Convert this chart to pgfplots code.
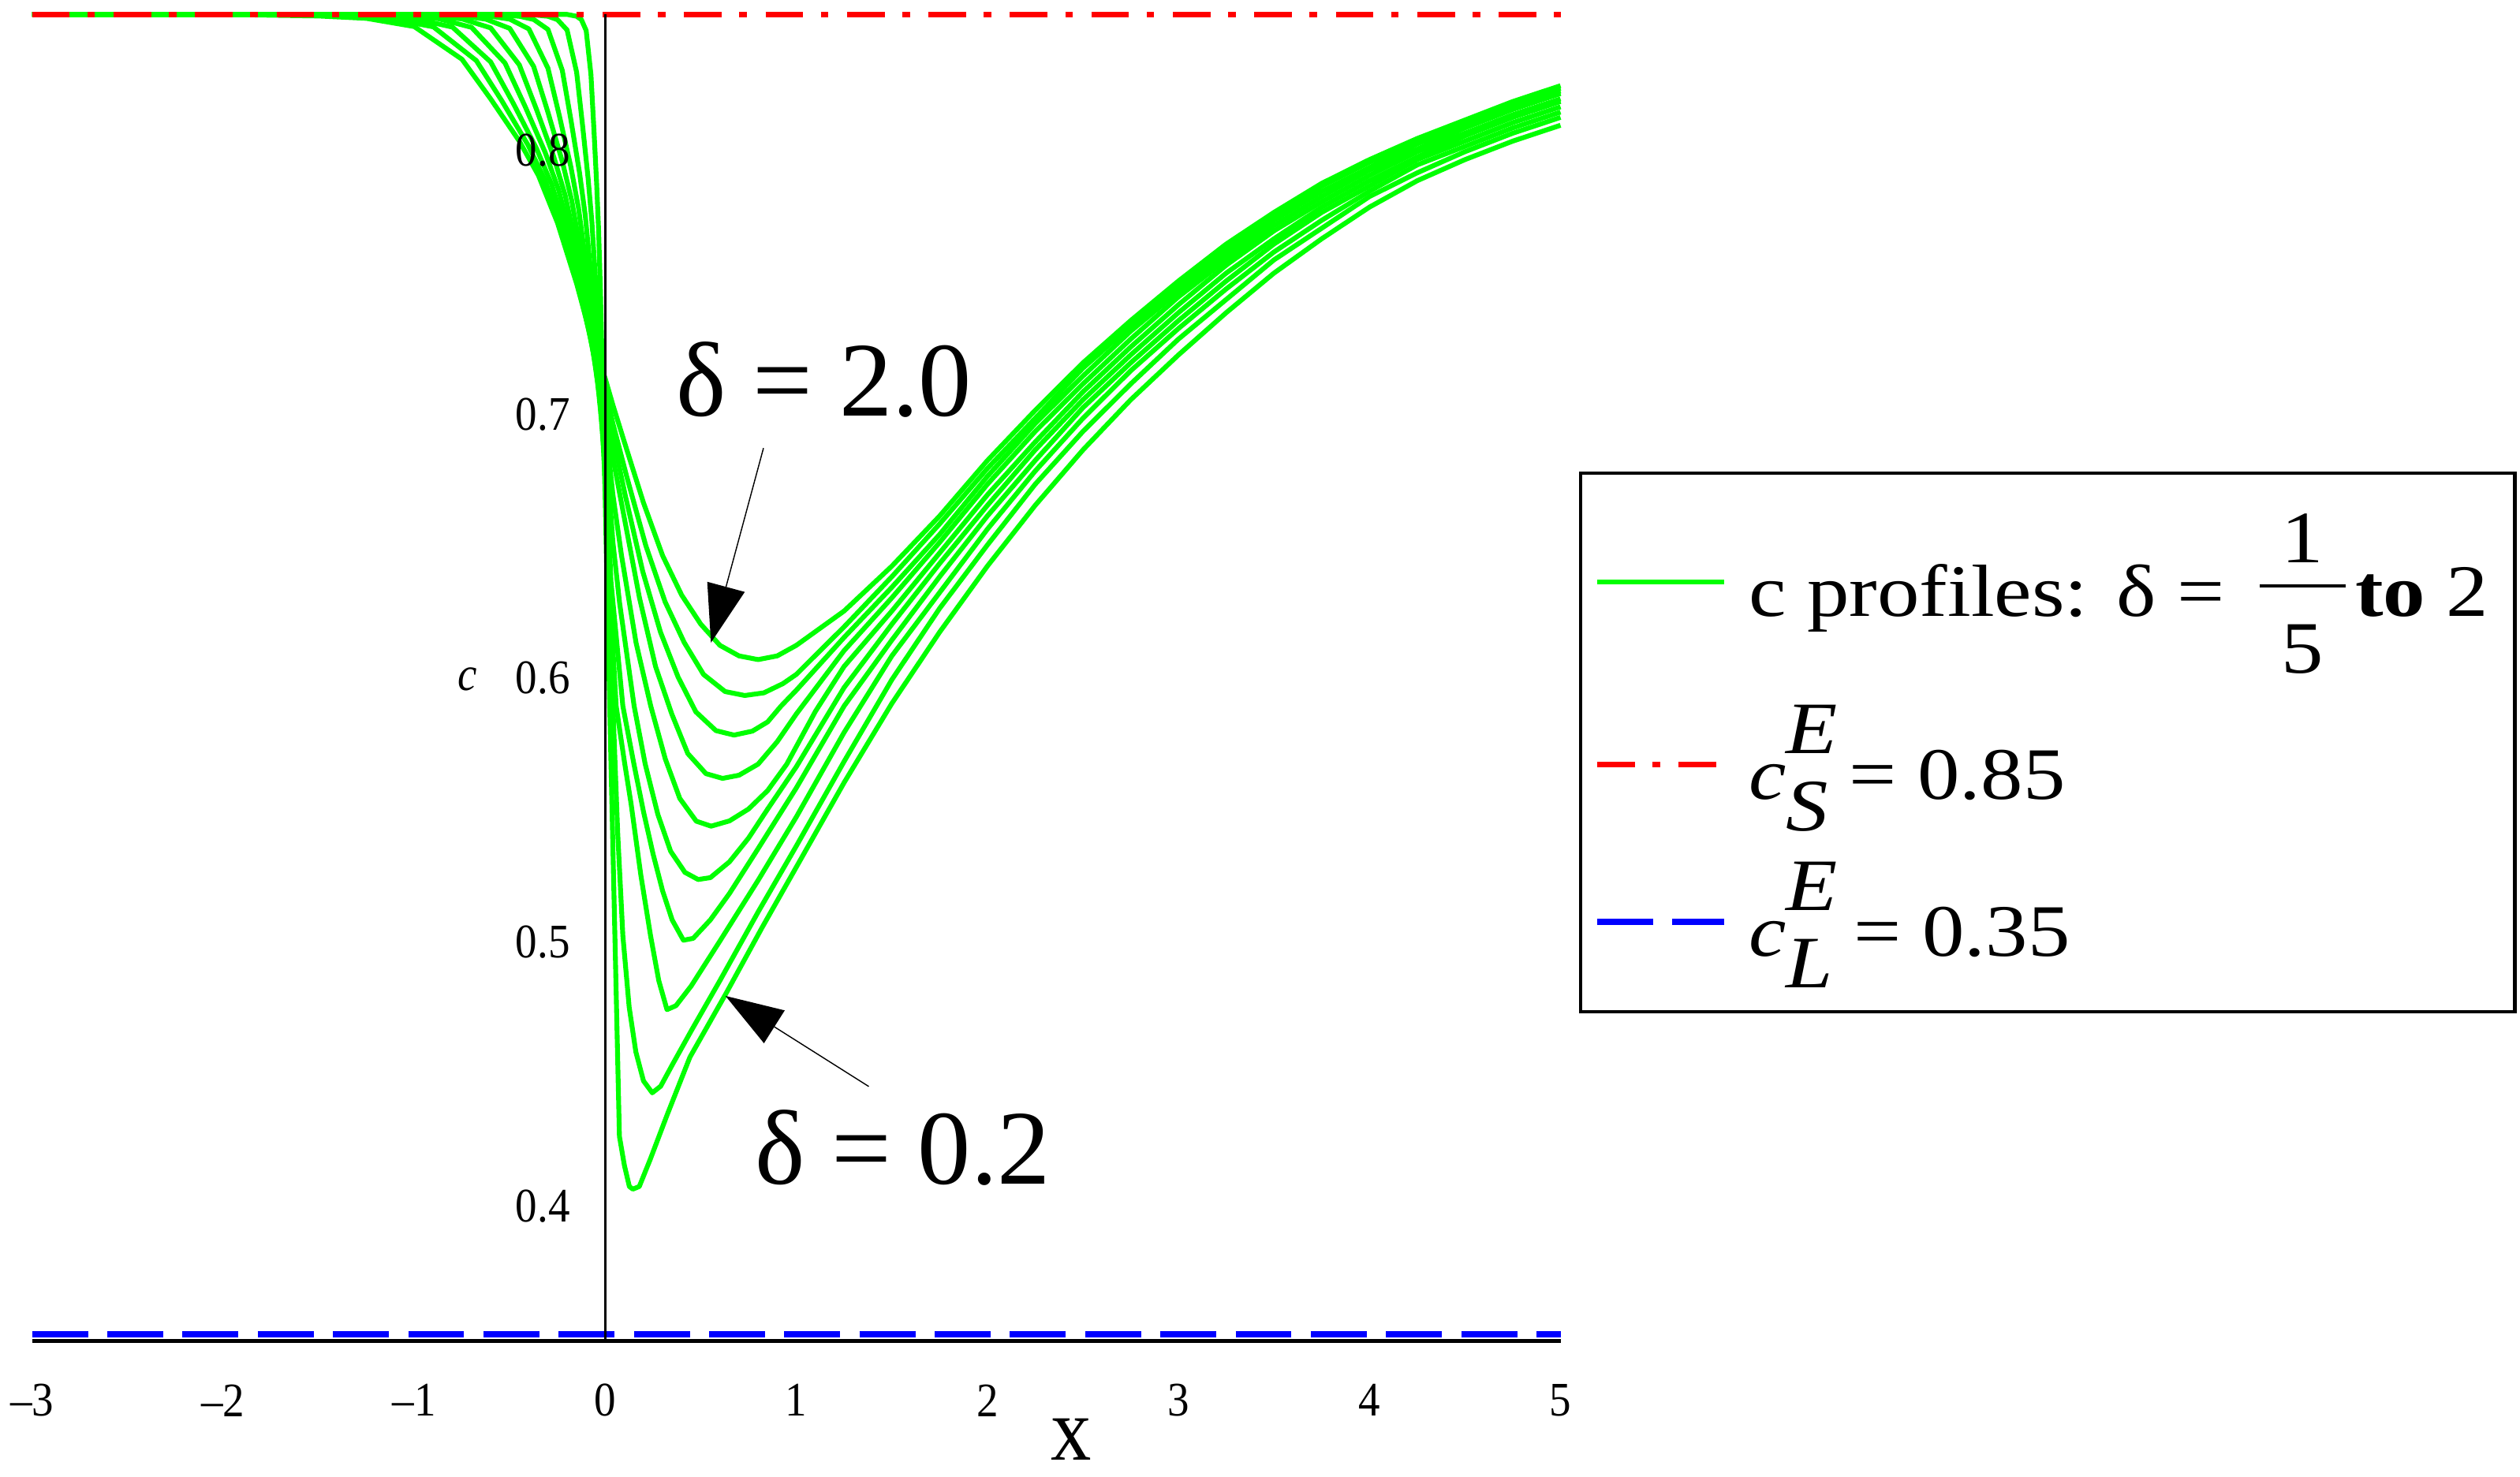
\documentclass[border=0pt]{standalone}
\usepackage{pgfplots}
\pgfplotsset{compat=1.18}
\usepackage{fontspec}
\usetikzlibrary{arrows.meta}
\setmainfont{Liberation Serif}
\newfontfamily\tickfont{Liberation Serif}[FakeStretch=0.9]
\newfontfamily\legfont{Liberation Serif}[FakeStretch=1.14]

\definecolor{pgreen}{RGB}{0,255,0}
\definecolor{pred}{RGB}{255,0,0}
\definecolor{pblue}{RGB}{0,0,255}

\pgfplotsset{prof/.style={color=pgreen, line width=1.5pt, line join=round}}

% stacked fraction as Maple sets it
\newcommand\fracbar[2]{\makebox[0pt][l]{\rule[9pt]{26.7pt}{1pt}}\makebox[26.7pt]{\raisebox{16.8pt}{#1}}\makebox[0pt][r]{\makebox[26.7pt]{\raisebox{-17.5pt}{#2}}}}

\begin{document}
\begin{tikzpicture}
\begin{axis}[
  at={(10pt,42.15pt)}, anchor=south west,
  scale only axis, width=475.5pt, height=412.85pt,
  xmin=-3, xmax=5, ymin=0.3474, ymax=0.85,
  clip=false, axis on top,
  axis x line=bottom, axis y line=middle,
  x axis line style={-, line width=1.15pt},
  y axis line style={-, line width=0.8pt},
  hide obscured x ticks=false, hide obscured y ticks=false,
  major tick length=0pt, tick style={draw=none},
  xtick={-3,-2,-1,0,1,2,3,4,5},
  xticklabels={\textendash3,\textendash2,\textendash1,0,1,2,3,4,5},
  xticklabel style={font=\tickfont\fontsize{15}{15}\selectfont, anchor=center, inner sep=0pt, yshift=-18.4pt},
  ytick={0.4,0.5,0.6,0.7,0.8},
  yticklabels={0.4,0.5,0.6,0.7,0.8},
  yticklabel style={font=\tickfont\fontsize{15}{15}\selectfont, anchor=east, inner sep=0pt, xshift=-10.8pt, yshift=-1.2pt},
  xlabel={x},
  xlabel style={font=\tickfont\fontsize{28}{28}\selectfont, at={(rel axis cs:0.68,0)}, anchor=center, yshift=-30.5pt},
  legend style={
    at={(rel axis cs:1,0.6552)}, anchor=north west, xshift=5.65pt,
    draw=black, line width=1pt, fill=white,
    inner xsep=4.35pt, inner ysep=0pt,
    row sep=0pt, column sep=6.75pt,
    font=\legfont\fontsize{23}{26}\selectfont,
    nodes={inner sep=0pt, text depth=},
    cells={anchor=base west},
  },
  legend image code/.code={\draw[#1] (0pt,10.8pt) -- (39.5pt,10.8pt);},
]

% delta = 2.0
\addplot[prof] coordinates {
 (-3,0.85) (-2,0.85) (-1.5,0.8494) (-1.25,0.8485) (-1.0,0.8454) (-0.75,0.833) (-0.6,0.818)
 (-0.45,0.802) (-0.35,0.789) (-0.25,0.771) (-0.15,0.748) (-0.075,0.728) (0,0.712)
 (0.04,0.702) (0.1,0.688) (0.2,0.665) (0.3,0.645) (0.4,0.630) (0.5,0.619) (0.6,0.611)
 (0.7,0.607) (0.8,0.6056) (0.9,0.607) (1.0,0.611) (1.25,0.624) (1.5,0.641) (1.75,0.660)
 (2,0.681) (2.25,0.700) (2.5,0.718) (2.75,0.734) (3,0.749) (3.25,0.763) (3.5,0.775)
 (3.75,0.786) (4,0.795) (4.25,0.803) (4.5,0.810) (4.75,0.817) (5,0.823)
};
\addlegendentry{\makebox[234pt][l]{\rule[-18pt]{0pt}{62.5pt}c profiles: δ =\hspace{11pt}\fracbar{1}{5}\hspace{3pt}\textbf{to} 2}}

% delta = 1.8
\addplot[prof, forget plot] coordinates {
 (-3,0.85) (-1.8,0.85) (-1.35,0.8494) (-1.125,0.8484) (-0.9,0.8453) (-0.675,0.8325) (-0.54,0.8171)
 (-0.405,0.8006) (-0.315,0.7872) (-0.225,0.7688) (-0.135,0.7451) (-0.0675,0.7245) (0,0.708)
 (0.04,0.695) (0.112,0.675) (0.212,0.6488) (0.313,0.6275) (0.413,0.6121) (0.514,0.600)
 (0.627,0.5935) (0.73,0.592) (0.83,0.593) (0.93,0.5965) (1.0,0.600) (1.25,0.618) (1.5,0.637)
 (1.75,0.657) (2,0.678) (2.25,0.697) (2.5,0.716) (2.75,0.732) (3,0.747) (3.25,0.761)
 (3.5,0.773) (3.75,0.785) (4,0.794) (4.25,0.802) (4.5,0.809) (4.75,0.816) (5,0.822)
};
% delta = 1.6
\addplot[prof, forget plot] coordinates {
 (-3,0.85) (-1.6,0.85) (-1.2,0.8494) (-1.0,0.8484) (-0.8,0.8452) (-0.6,0.832) (-0.48,0.8161)
 (-0.36,0.7992) (-0.28,0.7855) (-0.2,0.7665) (-0.12,0.7421) (-0.06,0.7209) (0,0.704)
 (0.04,0.690) (0.104,0.668) (0.196,0.639) (0.289,0.616) (0.381,0.599) (0.474,0.5858)
 (0.579,0.5787) (0.674,0.577) (0.77,0.5785) (0.85,0.582) (0.92,0.588) (1.0,0.594)
 (1.25,0.614) (1.5,0.633) (1.75,0.653) (2,0.675) (2.25,0.695) (2.5,0.713) (2.75,0.730)
 (3,0.745) (3.25,0.759) (3.5,0.772) (3.75,0.783) (4,0.792) (4.25,0.801) (4.5,0.808)
 (4.75,0.815) (5,0.821)
};
% delta = 1.4
\addplot[prof, forget plot] coordinates {
 (-3,0.85) (-1.4,0.85) (-1.05,0.8494) (-0.875,0.8484) (-0.7,0.8451) (-0.525,0.8316) (-0.42,0.8152)
 (-0.315,0.7978) (-0.245,0.7837) (-0.175,0.7642) (-0.105,0.7392) (-0.0525,0.7174) (0,0.700)
 (0.04,0.682) (0.095,0.661) (0.179,0.629) (0.263,0.603) (0.348,0.585) (0.432,0.570)
 (0.527,0.5624) (0.614,0.5606) (0.7,0.5618) (0.8,0.566) (0.9,0.5745) (1.0,0.585)
 (1.25,0.609) (1.5,0.629) (1.75,0.650) (2,0.672) (2.25,0.692) (2.5,0.710) (2.75,0.727)
 (3,0.743) (3.25,0.757) (3.5,0.770) (3.75,0.781) (4,0.791) (4.25,0.799) (4.5,0.807)
 (4.75,0.814) (5,0.820)
};
% delta = 1.2
\addplot[prof, forget plot] coordinates {
 (-3,0.85) (-1.2,0.85) (-0.9,0.8494) (-0.75,0.8483) (-0.6,0.8449) (-0.45,0.8309) (-0.36,0.814)
 (-0.27,0.7961) (-0.21,0.7815) (-0.15,0.7613) (-0.09,0.7355) (-0.045,0.713) (0,0.695)
 (0.04,0.668) (0.085,0.645) (0.161,0.612) (0.238,0.588) (0.314,0.568) (0.39,0.553)
 (0.476,0.5444) (0.554,0.5425) (0.65,0.5445) (0.75,0.549) (0.85,0.556) (0.95,0.566)
 (1.1,0.586) (1.25,0.603) (1.5,0.624) (1.75,0.646) (2,0.668) (2.25,0.688) (2.5,0.707)
 (2.75,0.724) (3,0.740) (3.25,0.755) (3.5,0.768) (3.75,0.779) (4,0.789) (4.25,0.798)
 (4.5,0.805) (4.75,0.812) (5,0.818)
};
% delta = 1.0
\addplot[prof, forget plot] coordinates {
 (-3,0.85) (-1,0.85) (-0.75,0.8494) (-0.625,0.8482) (-0.5,0.8447) (-0.375,0.8303) (-0.3,0.8129)
 (-0.225,0.7943) (-0.175,0.7793) (-0.125,0.7585) (-0.075,0.7318) (-0.0375,0.7086) (0,0.690)
 (0.04,0.650) (0.075,0.627) (0.151,0.588) (0.209,0.566) (0.275,0.547) (0.342,0.533)
 (0.417,0.525) (0.486,0.5223) (0.55,0.523) (0.65,0.529) (0.75,0.538) (0.85,0.549)
 (1.0,0.565) (1.25,0.595) (1.5,0.619) (1.75,0.642) (2,0.664) (2.25,0.685) (2.5,0.704)
 (2.75,0.721) (3,0.737) (3.25,0.752) (3.5,0.765) (3.75,0.777) (4,0.787) (4.25,0.796)
 (4.5,0.804) (4.75,0.811) (5,0.817)
};
% delta = 0.8
\addplot[prof, forget plot] coordinates {
 (-3,0.85) (-0.8,0.85) (-0.6,0.8493) (-0.5,0.8482) (-0.4,0.8445) (-0.3,0.8296) (-0.24,0.8115)
 (-0.18,0.7922) (-0.14,0.7766) (-0.1,0.755) (-0.06,0.7273) (-0.03,0.7033) (0,0.684)
 (0.03,0.635) (0.092,0.588) (0.15,0.566) (0.2,0.548) (0.25,0.532) (0.3,0.518) (0.35,0.507)
 (0.409,0.4993) (0.46,0.500) (0.55,0.507) (0.65,0.517) (0.8,0.534) (1.0,0.557) (1.25,0.588)
 (1.5,0.613) (1.75,0.637) (2,0.660) (2.25,0.681) (2.5,0.701) (2.75,0.718) (3,0.734)
 (3.25,0.749) (3.5,0.763) (3.75,0.775) (4,0.785) (4.25,0.795) (4.5,0.802) (4.75,0.809) (5,0.815)
};
% delta = 0.6
\addplot[prof, forget plot] coordinates {
 (-3,0.85) (-0.6,0.85) (-0.45,0.8493) (-0.375,0.8481) (-0.3,0.8443) (-0.225,0.8288) (-0.18,0.8101)
 (-0.135,0.7901) (-0.105,0.774) (-0.075,0.7516) (-0.045,0.7229) (-0.0225,0.698) (0,0.678)
 (0.02,0.635) (0.057,0.588) (0.1,0.567) (0.135,0.551) (0.186,0.524) (0.237,0.501) (0.28,0.484)
 (0.323,0.473) (0.37,0.4745) (0.45,0.482) (0.6,0.499) (0.8,0.522) (1.0,0.546) (1.25,0.578)
 (1.5,0.607) (1.75,0.631) (2,0.655) (2.25,0.677) (2.5,0.697) (2.75,0.715) (3,0.731)
 (3.25,0.746) (3.5,0.760) (3.75,0.772) (4,0.783) (4.25,0.793) (4.5,0.800) (4.75,0.807) (5,0.813)
};
% delta = 0.4
\addplot[prof, forget plot] coordinates {
 (-3,0.85) (-0.4,0.85) (-0.3,0.8493) (-0.25,0.848) (-0.2,0.8441) (-0.15,0.8281) (-0.12,0.8087)
 (-0.09,0.788) (-0.07,0.7713) (-0.05,0.7482) (-0.03,0.7185) (-0.015,0.6926) (0,0.672)
 (0.02,0.625) (0.04,0.588) (0.065,0.54) (0.092,0.501) (0.125,0.474) (0.16,0.457) (0.2,0.446)
 (0.246,0.4415) (0.29,0.444) (0.35,0.452) (0.45,0.465) (0.6,0.484) (0.8,0.510) (1.0,0.535)
 (1.25,0.567) (1.5,0.598) (1.75,0.625) (2,0.649) (2.25,0.672) (2.5,0.692) (2.75,0.710)
 (3,0.727) (3.25,0.742) (3.5,0.757) (3.75,0.769) (4,0.781) (4.25,0.790) (4.5,0.798)
 (4.75,0.805) (5,0.811)
};
% delta = 0.2
\addplot[prof, forget plot] coordinates {
 (-3,0.85) (-0.2,0.85) (-0.15,0.8493) (-0.125,0.848) (-0.1,0.8439) (-0.075,0.8272) (-0.06,0.8071)
 (-0.045,0.7856) (-0.035,0.7682) (-0.025,0.7442) (-0.015,0.7133) (-0.0075,0.6865) (0,0.665)
 (0.023,0.588) (0.05,0.502) (0.074,0.425) (0.1,0.414) (0.126,0.406) (0.144,0.405) (0.178,0.406)
 (0.237,0.4166) (0.323,0.433) (0.443,0.455) (0.631,0.479) (0.82,0.504) (1.0,0.527) (1.25,0.559)
 (1.5,0.589) (1.75,0.616) (2,0.641) (2.25,0.664) (2.5,0.685) (2.75,0.704) (3,0.721)
 (3.25,0.737) (3.5,0.752) (3.75,0.765) (4,0.777) (4.25,0.787) (4.5,0.795) (4.75,0.802) (5,0.808)
};

% equilibrium levels
\addplot[color=pred, line width=1.8pt, dash pattern=on 11.7pt off 5.5pt on 2.35pt off 5.8pt]
  coordinates {(-3,0.85) (5,0.85)};
\addlegendentry{\makebox[234pt][l]{\rule[-11pt]{0pt}{49.8pt}\textit{c\raisebox{14.3pt}{\makebox[0pt][l]{E}}\raisebox{-9.8pt}{S}} = 0.85}}
\addplot[color=pblue, line width=1.8pt, dash pattern=on 17.4pt off 6pt]
  coordinates {(-3,0.35) (5,0.35)};
\addlegendentry{\makebox[234pt][l]{\rule[-17.25pt]{0pt}{55.25pt}\textit{c\raisebox{14.3pt}{\makebox[0pt][l]{E}}\raisebox{-9.8pt}{L}} = 0.35}}

% annotations
\node[font=\fontsize{33}{36}\selectfont, anchor=base] at (axis cs:1.146,0.698) {δ = 2.0};
\node[font=\fontsize{33}{36}\selectfont, anchor=base] at (axis cs:1.558,0.4069) {δ = 0.2};
\draw[line width=0.35pt, -{Triangle[length=18pt,width=12pt]}] (axis cs:0.828,0.6857) -- (axis cs:0.553,0.612);
\draw[line width=0.35pt, -{Triangle[length=18pt,width=12pt]}] (axis cs:1.379,0.4439) -- (axis cs:0.629,0.4782);
\node[font=\tickfont\itshape\fontsize{15}{15}\selectfont] at (axis cs:-0.721,0.598) {c};
\end{axis}
\path (0pt,0pt) rectangle (784pt,459.5pt);
\end{tikzpicture}
\end{document}
